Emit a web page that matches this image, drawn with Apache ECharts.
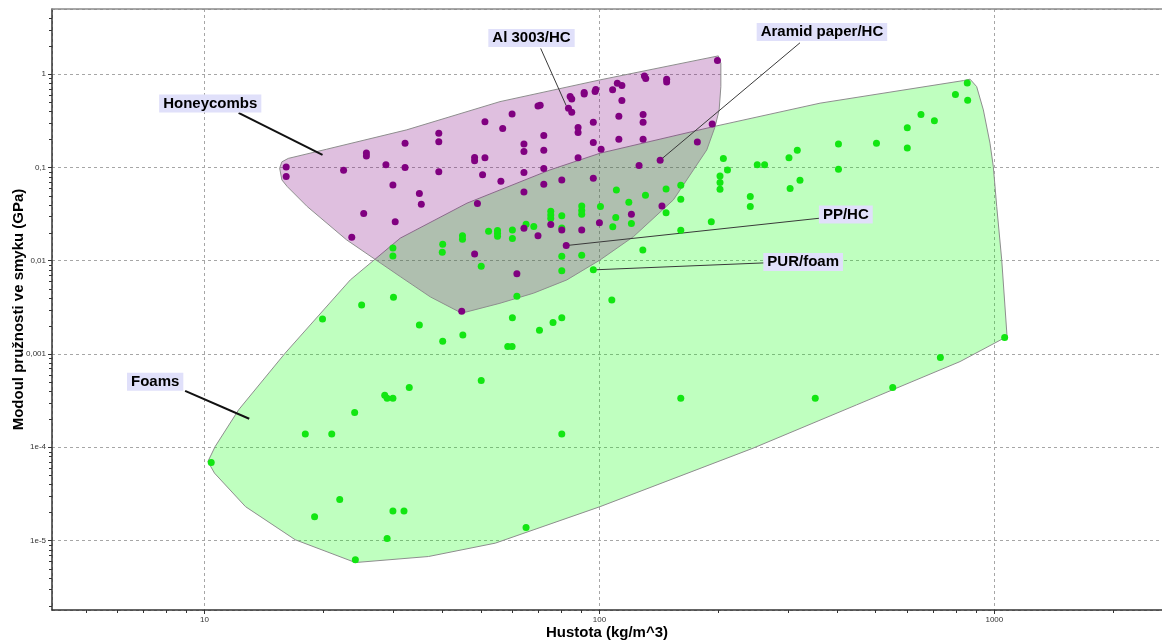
<!DOCTYPE html>
<html>
<head>
<meta charset="utf-8">
<script src="https://cdn.jsdelivr.net/npm/echarts@6/dist/echarts.min.js"></script>
<style>
  html, body { margin: 0; padding: 0; background: #ffffff; }
  #chart { width: 1162px; height: 643px; }
</style>
</head>
<body>
<div id="chart"></div>
<script>
// Density (kg/m^3) vs. shear modulus (GPa) of cellular core materials.

// Individual honeycomb cores: [density, shear modulus]
const honeycombPoints = [
  [16.1, 0.101], [16.1, 0.0798], [22.5, 0.0935], [25.7, 0.143], [25.7, 0.133],
  [28.8, 0.107], [32.2, 0.182], [32.2, 0.100], [30.0, 0.065], [35.0, 0.0525],
  [35.4, 0.0404], [25.3, 0.032], [30.4, 0.0261], [23.6, 0.0179], [39.2, 0.233],
  [39.2, 0.189], [39.2, 0.0897], [48.3, 0.128], [48.3, 0.118], [51.3, 0.127],
  [51.3, 0.31], [56.9, 0.261], [60.1, 0.375], [50.6, 0.0833], [56.3, 0.0713],
  [49.1, 0.041], [64.4, 0.178], [64.4, 0.148], [64.4, 0.0881], [64.4, 0.0547],
  [69.9, 0.457], [64.4, 0.0223], [69.9, 0.0185], [199, 1.40], [130, 0.959],
  [131, 0.897], [148, 0.884], [148, 0.827], [111, 0.801], [114, 0.755],
  [108, 0.679], [97.9, 0.684], [97.5, 0.651], [91.5, 0.635], [91.5, 0.615],
  [84.3, 0.575], [85.1, 0.543], [70.8, 0.465], [83.5, 0.432], [85.1, 0.391],
  [114, 0.521], [96.5, 0.306], [112, 0.355], [129, 0.369], [129, 0.306],
  [88.3, 0.268], [88.3, 0.237], [72.3, 0.22], [72.3, 0.153], [96.5, 0.185],
  [101, 0.157], [112, 0.201], [129, 0.201], [88.3, 0.127], [72.3, 0.0973],
  [72.3, 0.0662], [80.3, 0.0736], [96.5, 0.0768], [193, 0.293], [177, 0.188],
  [142.5, 0.1197], [126, 0.1047], [144, 0.0387], [120.5, 0.0315], [100, 0.0255],
  [90.2, 0.0214], [80.3, 0.0214], [75.3, 0.0244], [82.4, 0.01454], [48.3, 0.01184],
  [61.8, 0.00723], [44.8, 0.00288]
];

// Individual foams: [density, shear modulus]
const foamPoints = [
  [40.1, 0.01505], [40.0, 0.01235], [45.0, 0.0185], [45.0, 0.017], [50.2, 0.00874],
  [52.4, 0.02075], [55.2, 0.02105], [55.2, 0.01974], [55.2, 0.01834], [60.2, 0.0214],
  [60.2, 0.01728], [65.2, 0.02465], [68.2, 0.02324], [75.3, 0.034], [75.3, 0.031],
  [75.3, 0.0283], [80.3, 0.0303], [80.3, 0.0225], [90.2, 0.0387], [90.2, 0.0345],
  [90.2, 0.0315], [100.6, 0.0381], [110.4, 0.0575], [118.7, 0.0424], [130.8, 0.0504],
  [147.5, 0.0589], [160.7, 0.0646], [160.7, 0.0457], [147.5, 0.0326], [110, 0.029],
  [108.1, 0.0231], [120.5, 0.025], [160.7, 0.02126], [128.8, 0.01307], [80.3, 0.01119],
  [90.2, 0.01147], [80.3, 0.00779], [96.5, 0.00798], [61.8, 0.00417], [107.5, 0.0038],
  [60.2, 0.00244], [80.3, 0.00244], [30.1, 0.00407], [25.0, 0.00336], [19.9, 0.00238],
  [35.0, 0.00205], [40.1, 0.00137], [45.1, 0.0016], [70.5, 0.0018], [76.3, 0.00217],
  [58.6, 0.0012], [60.1, 0.0012], [50.2, 0.000519], [33.0, 0.000437], [28.6, 0.000362],
  [29.0, 0.000336], [30.0, 0.000336], [24.0, 0.000236], [18.0, 0.000139], [21.0, 0.000139],
  [80.3, 0.000139], [10.4, 6.86e-5], [22.0, 2.75e-5], [19.0, 1.8e-5], [30.0, 2.07e-5],
  [32.0, 2.07e-5], [29.0, 1.05e-5], [65.2, 1.38e-5], [24.1, 6.21e-6], [1062, 0.0015],
  [730, 0.000916], [553, 0.000437], [160.7, 0.000336], [352, 0.000336], [854, 0.807],
  [797, 0.604], [856, 0.526], [652, 0.369], [705, 0.316], [602, 0.266],
  [602, 0.162], [503, 0.182], [403, 0.178], [403, 0.0959], [317, 0.153],
  [302, 0.127], [322, 0.073], [304, 0.0594], [251, 0.107], [262, 0.107],
  [241, 0.0487], [241, 0.0381], [206, 0.1245], [211, 0.0942], [202, 0.0812],
  [202, 0.0689], [202, 0.0585], [192, 0.0261], [30.0, 0.01373], [30.0, 0.01127]
];

// Property envelopes (outline vertices in data units)
const honeycombEnvelope = [
  [15.5, 0.0982], [15.7, 0.1148], [16.3, 0.1251], [20.4, 0.157], [32.5, 0.253],
  [56.0, 0.508], [100.4, 0.869], [200, 1.571], [203, 1.312], [203, 0.736],
  [201, 0.414], [196.3, 0.274], [187, 0.1543], [173, 0.0942], [153.9, 0.0449],
  [122, 0.01816], [100.4, 0.0102], [82.7, 0.00623], [68.1, 0.00449], [56.0, 0.0035],
  [44.8, 0.00274], [37.3, 0.0041], [31.3, 0.00677], [22.9, 0.01674], [18.2, 0.0381],
  [16.2, 0.0624], [15.7, 0.0736]
];
const foamEnvelope = [
  [10.2, 7.03e-5], [10.64, 1.018e-4], [12.2, 2.52e-4], [16.0, 0.00102], [23.4, 0.00623],
  [31.3, 0.01745], [46.2, 0.0414], [75.0, 0.0942], [100.4, 0.1422], [194.4, 0.274],
  [362, 0.489], [835, 0.854], [868, 0.884], [902, 0.736], [938, 0.414],
  [975, 0.182], [994, 0.1022], [1014, 0.0381], [1044, 0.0102], [1077, 0.00154],
  [819, 0.00083], [448, 2.85e-4], [245, 9.78e-5], [100.4, 2.31e-5], [54.5, 9.38e-6],
  [36.9, 6.74e-6], [24.1, 5.81e-6], [16.97, 1.02e-5], [12.7, 2.31e-5], [10.6, 5.28e-5]
];

// Axis ticks
const xTickValues = [10, 100, 1000];
const xTickLabels = ['10', '100', '1000'];
const yTickValues = [1e-5, 1e-4, 1e-3, 1e-2, 1e-1, 1];
const yTickLabels = ['1e-5', '1e-4', '0,001', '0,01', '0,1', '1'];
const minorMantissas = [2, 3, 4, 5, 6, 7, 8, 9];

// Callout texts and where they sit (label centre, leader start, leader end)
const calloutTexts = ['Honeycombs', 'Al 3003/HC', 'Aramid paper/HC', 'PP/HC', 'PUR/foam', 'Foams'];
const calloutLayout = [
  { at: [10.34, 0.484], from: [12.2, 0.385], to: [19.9, 0.1364], heavy: true },
  { at: [67.3, 2.45], from: [71.0, 1.89], to: [82.4, 0.46] },
  { at: [366, 2.84], from: [322, 2.17], to: [142.5, 0.1197] },
  { at: [420.7, 0.0314], from: [362, 0.0286], to: [82.4, 0.01454] },
  { at: [328, 0.00972], from: [263, 0.00949], to: [96.5, 0.00798] },
  { at: [7.5, 0.000503], from: [8.93, 0.000402], to: [12.98, 0.000202], heavy: true }
];

const X_MIN = 4.11, X_MAX = 2658;
const Y_MIN = 1.8e-6, Y_MAX = 5.0;

const FONT = '"Liberation Sans", Arial, Helvetica, sans-serif';

function decadeLabel(values, labels) {
  return function (v) {
    const lg = Math.log10(v);
    const e = Math.round(lg);
    if (Math.abs(lg - e) > 1e-6) return '';
    const i = values.findIndex(t => Math.round(Math.log10(t)) === e);
    return i >= 0 ? labels[i] : '';
  };
}

function envelope(name, pts, fill) {
  return {
    type: 'custom',
    name: name,
    silent: true,
    data: [pts[0]],
    renderItem: function (params, api) {
      return {
        type: 'polygon',
        shape: { points: pts.map(p => api.coord(p)) },
        style: { fill: fill, stroke: '#8e8e8e', lineWidth: 1 }
      };
    }
  };
}

const chart = echarts.init(document.getElementById('chart'), null, { renderer: 'canvas' });

const axisLabelStyle = { fontSize: 8, color: '#333', fontFamily: FONT };
const dashed = { show: true, lineStyle: { color: '#a6a6a6', width: 1, type: [3, 3] } };

chart.setOption({
  animation: false,
  backgroundColor: '#ffffff',
  grid: { left: 52, right: 0, top: 9, bottom: 33, containLabel: false, outerBoundsMode: 'none' },
  xAxis: [{
    type: 'log',
    min: X_MIN, max: X_MAX,
    name: 'Hustota (kg/m^3)',
    nameLocation: 'middle',
    nameGap: 15,
    nameMoveOverlap: false,
    nameTextStyle: { fontWeight: 'bold', fontSize: 15, color: '#000', fontFamily: FONT },
    axisLine: { lineStyle: { color: '#333', width: 1.5 } },
    axisTick: { length: 4, lineStyle: { color: '#333' } },
    axisLabel: Object.assign({ margin: 6, showMinLabel: false, showMaxLabel: false,
      formatter: decadeLabel(xTickValues, xTickLabels) }, axisLabelStyle),
    splitLine: dashed
  }, {
    type: 'log',
    position: 'top',
    min: X_MIN, max: X_MAX,
    axisLine: { show: true, lineStyle: { color: '#8a8a8a', width: 1.5 } },
    axisTick: { show: false },
    axisLabel: { show: false },
    splitLine: { show: false }
  }],
  yAxis: {
    type: 'log',
    min: Y_MIN, max: Y_MAX,
    name: 'Modoul pružnosti ve smyku (GPa)',
    nameLocation: 'middle',
    nameGap: 26,
    nameMoveOverlap: false,
    nameTextStyle: { fontWeight: 'bold', fontSize: 15, color: '#000', fontFamily: FONT },
    axisLine: { show: true, lineStyle: { color: '#333', width: 1.5 } },
    axisTick: { show: true, length: 4, lineStyle: { color: '#333' } },
    axisLabel: Object.assign({ margin: 6, showMinLabel: false, showMaxLabel: false,
      formatter: decadeLabel(yTickValues, yTickLabels) }, axisLabelStyle),
    splitLine: dashed
  },
  series: [
    envelope('Foams', foamEnvelope, 'rgba(0,255,0,0.25)'),
    envelope('Honeycombs', honeycombEnvelope, 'rgba(128,0,128,0.25)'),
    {
      type: 'scatter', name: 'Foams', data: foamPoints,
      symbol: 'circle', symbolSize: 7, silent: true,
      itemStyle: { color: '#12e612', opacity: 1 }
    },
    {
      type: 'scatter', name: 'Honeycombs', data: honeycombPoints,
      symbol: 'circle', symbolSize: 7, silent: true,
      itemStyle: { color: '#800080', opacity: 1 }
    },
    {
      // minor ticks at 2..9 of every decade on both log axes
      type: 'custom', silent: true, clip: false,
      data: [[X_MIN, Y_MIN]],
      renderItem: function (params, api) {
        const children = [];
        const style = { stroke: '#333', lineWidth: 1 };
        for (let k = -7; k <= 4; k++) {
          minorMantissas.forEach(function (m) {
            const v = m * Math.pow(10, k);
            if (v > X_MIN && v < X_MAX) {
              const p = api.coord([v, Y_MIN]);
              const x = Math.round(p[0]) + 0.5;
              children.push({ type: 'line', shape: { x1: x, y1: p[1], x2: x, y2: p[1] + 3 }, style: style });
            }
            if (v > Y_MIN && v < Y_MAX) {
              const p = api.coord([X_MIN, v]);
              const y = Math.round(p[1]) + 0.5;
              children.push({ type: 'line', shape: { x1: p[0] - 3, y1: y, x2: p[0], y2: y }, style: style });
            }
          });
        }
        return { type: 'group', children: children };
      }
    },
    {
      // callout labels with leader lines
      type: 'custom', silent: true, clip: false,
      data: calloutLayout.map(c => c.at),
      renderItem: function (params, api) {
        const c = calloutLayout[params.dataIndex];
        const a = api.coord(c.from), b = api.coord(c.to), t = api.coord(c.at);
        return {
          type: 'group',
          children: [{
            type: 'line',
            shape: { x1: a[0], y1: a[1], x2: b[0], y2: b[1] },
            style: { stroke: c.heavy ? '#111' : '#3a3a3a', lineWidth: c.heavy ? 2 : 1 }
          }, {
            type: 'text',
            x: t[0], y: t[1],
            style: {
              text: calloutTexts[params.dataIndex],
              font: 'bold 15px ' + FONT,
              fill: '#000',
              align: 'center',
              verticalAlign: 'middle',
              backgroundColor: '#e0e0fa',
              padding: [2, 4, 1, 4]
            }
          }]
        };
      }
    }
  ]
});
</script>
</body>
</html>
